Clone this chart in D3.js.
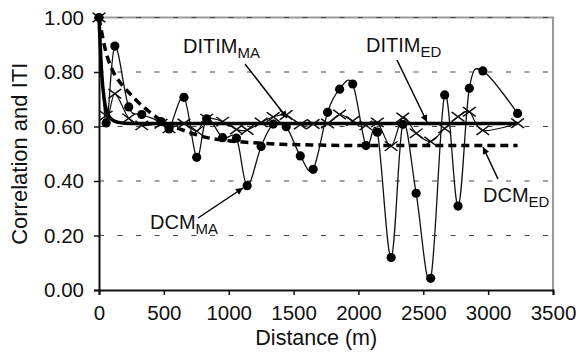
<!DOCTYPE html>
<html>
<head>
<meta charset="utf-8">
<script src="https://cdn.jsdelivr.net/npm/d3@7"></script>
<style>
  body { margin: 0; background: #fff; }
  svg text { font-family: "Liberation Sans", Arial, sans-serif; fill: #111; }
</style>
</head>
<body>
<div id="chart"></div>
<script>
// distances (m) shared by the two moving-average series
const distances = [0, 55, 122, 229, 330, 478, 540, 655, 753, 830, 953, 1060, 1142, 1250, 1343, 1443,
  1552, 1651, 1762, 1855, 1956, 2058, 2146, 2252, 2342, 2445, 2557, 2665, 2768, 2855, 2959, 3227];
const dcmMA = [1.0, 0.613, 0.895, 0.672, 0.644, 0.618, 0.591, 0.707, 0.487, 0.628, 0.559, 0.557, 0.383, 0.527, 0.609, 0.599,
  0.492, 0.443, 0.652, 0.737, 0.756, 0.53, 0.579, 0.119, 0.608, 0.355, 0.043, 0.716, 0.308, 0.74, 0.804, 0.648];
const ditimMA = [1.0, 0.64, 0.72, 0.63, 0.604, 0.61, 0.593, 0.611, 0.583, 0.629, 0.618, 0.589, 0.587, 0.615, 0.635, 0.642,
  0.607, 0.609, 0.611, 0.644, 0.62, 0.604, 0.615, 0.528, 0.633, 0.575, 0.545, 0.593, 0.636, 0.654, 0.586, 0.612];

// fitted (exponential decay) curves
const ditimEDDist = [0, 20, 40, 60, 80, 100, 150, 200, 300, 3227];
const ditimED = [1.0, 0.80, 0.70, 0.655, 0.635, 0.625, 0.615, 0.612, 0.611, 0.611];
const dcmEDDist = [0, 50, 100, 150, 200, 250, 300, 400, 500, 600, 700, 800, 1000, 1200, 1400, 1700, 2000, 3227];
const dcmED = [1.0, 0.88, 0.81, 0.77, 0.74, 0.715, 0.69, 0.65, 0.615, 0.595, 0.578, 0.563, 0.548, 0.54, 0.535, 0.532, 0.53, 0.53];

const xTicks = [0, 500, 1000, 1500, 2000, 2500, 3000, 3500];
const yTicks = [0, 0.2, 0.4, 0.6, 0.8, 1.0];

const margin = {top: 17.5, right: 23, bottom: 62, left: 99};
const W = 576, H = 352;
const width = W - margin.left - margin.right;
const height = H - margin.top - margin.bottom;

const svg = d3.select('#chart').append('svg')
    .attr('width', W)
    .attr('height', H);
const g = svg.append('g')
    .attr('transform', 'translate(' + margin.left + ',' + margin.top + ')');

const x = d3.scaleLinear().domain([0, 3500]).range([0, width]);
const y = d3.scaleLinear().domain([0, 1]).range([height, 0]);

// plot border (top / right) in gray
g.append('path')
    .attr('d', 'M0,0H' + width + 'V' + height)
    .attr('fill', 'none')
    .attr('stroke', '#9a9a9a')
    .attr('stroke-width', 2);

// dashed gridlines
g.selectAll('line.grid')
    .data(yTicks.filter(d => d > 0))
  .enter().append('line')
    .attr('class', 'grid')
    .attr('x1', 0).attr('x2', width)
    .attr('y1', d => y(d)).attr('y2', d => y(d))
    .attr('stroke', '#444')
    .attr('stroke-width', 1)
    .attr('stroke-dasharray', '5,13.5');

// axes
const xAxis = g.append('g')
    .attr('transform', 'translate(0,' + height + ')')
    .call(d3.axisBottom(x).tickValues(xTicks).tickSize(5).tickPadding(10).tickFormat(d3.format('d')));
const yAxis = g.append('g')
    .call(d3.axisLeft(y).tickValues(yTicks).tickSize(5).tickPadding(10).tickFormat(d3.format('.2f')));
[xAxis, yAxis].forEach(a => {
  a.select('.domain').attr('stroke', '#111').attr('stroke-width', 2);
  a.selectAll('.tick line').attr('stroke', '#111').attr('stroke-width', 1.5);
  a.selectAll('text').attr('font-size', '20.5px').attr('fill', '#111')
    .attr('font-family', '"Liberation Sans", Arial, sans-serif');
});

// axis titles
svg.append('text')
    .attr('x', margin.left + x(1675))
    .attr('y', 345)
    .attr('text-anchor', 'middle')
    .attr('font-size', '21.5px')
    .text('Distance (m)');
svg.append('text')
    .attr('transform', 'translate(27,' + (margin.top + height / 2) + ') rotate(-90)')
    .attr('text-anchor', 'middle')
    .attr('font-size', '22px')
    .text('Correlation and ITI');

// lines
const smooth = d3.line()
    .x(d => x(d[0]))
    .y(d => y(d[1]))
    .curve(d3.curveCardinal.tension(0));
const fitted = d3.line()
    .x(d => x(d[0]))
    .y(d => y(d[1]))
    .curve(d3.curveMonotoneX);

const dcmEDPts = dcmEDDist.map((d, i) => [d, dcmED[i]]);
const ditimEDPts = ditimEDDist.map((d, i) => [d, ditimED[i]]);
const dcmMAPts = distances.map((d, i) => [d, dcmMA[i]]);
const ditimMAPts = distances.map((d, i) => [d, ditimMA[i]]);

g.append('path')
    .datum(dcmEDPts)
    .attr('fill', 'none')
    .attr('stroke', '#000')
    .attr('stroke-width', 3.5)
    .attr('stroke-dasharray', '8,5')
    .attr('d', fitted);

g.append('path')
    .datum(ditimMAPts)
    .attr('fill', 'none')
    .attr('stroke', '#111')
    .attr('stroke-width', 1.2)
    .attr('d', smooth);

g.append('path')
    .datum(dcmMAPts)
    .attr('fill', 'none')
    .attr('stroke', '#111')
    .attr('stroke-width', 1.3)
    .attr('d', smooth);

g.append('path')
    .datum(ditimEDPts)
    .attr('fill', 'none')
    .attr('stroke', '#000')
    .attr('stroke-width', 3.5)
    .attr('d', fitted);

// markers
const cross = d3.symbol().type(d3.symbolX).size(60);
g.selectAll('path.xmark')
    .data(ditimMAPts)
  .enter().append('path')
    .attr('class', 'xmark')
    .attr('transform', d => 'translate(' + x(d[0]) + ',' + y(d[1]) + ') scale(1.35,1)')
    .attr('d', cross)
    .attr('fill', 'none')
    .attr('stroke', '#111')
    .attr('stroke-width', 1.3);

g.selectAll('circle.dot')
    .data(dcmMAPts)
  .enter().append('circle')
    .attr('class', 'dot')
    .attr('cx', d => x(d[0]))
    .attr('cy', d => y(d[1]))
    .attr('r', 4.6)
    .attr('fill', '#000');

// annotations with arrows
svg.append('defs').append('marker')
    .attr('id', 'head')
    .attr('viewBox', '0 0 10 10')
    .attr('refX', 10).attr('refY', 5)
    .attr('markerWidth', 11).attr('markerHeight', 7)
    .attr('markerUnits', 'userSpaceOnUse')
    .attr('orient', 'auto')
  .append('path')
    .attr('d', 'M0,0L10,5L0,10Z')
    .attr('fill', '#000');

const notes = [
  {main: 'DITIM', sub: 'MA', tx: 183, ty: 53, from: [245, 64], to: [287, 118]},
  {main: 'DITIM', sub: 'ED', tx: 366, ty: 52, from: [397, 60], to: [427, 122]},
  {main: 'DCM', sub: 'MA', tx: 150, ty: 229, from: [198, 218], to: [243, 188]},
  {main: 'DCM', sub: 'ED', tx: 483, ty: 202, from: [498, 179], to: [483, 147]}
];

notes.forEach(n => {
  const t = svg.append('text')
      .attr('x', n.tx)
      .attr('y', n.ty)
      .attr('font-size', '20px');
  t.append('tspan').text(n.main);
  t.append('tspan').attr('font-size', '15px').attr('dy', 5).text(n.sub);
  svg.append('line')
      .attr('x1', n.from[0]).attr('y1', n.from[1])
      .attr('x2', n.to[0]).attr('y2', n.to[1])
      .attr('stroke', '#000')
      .attr('stroke-width', 1.5)
      .attr('marker-end', 'url(#head)');
});
</script>
</body>
</html>
